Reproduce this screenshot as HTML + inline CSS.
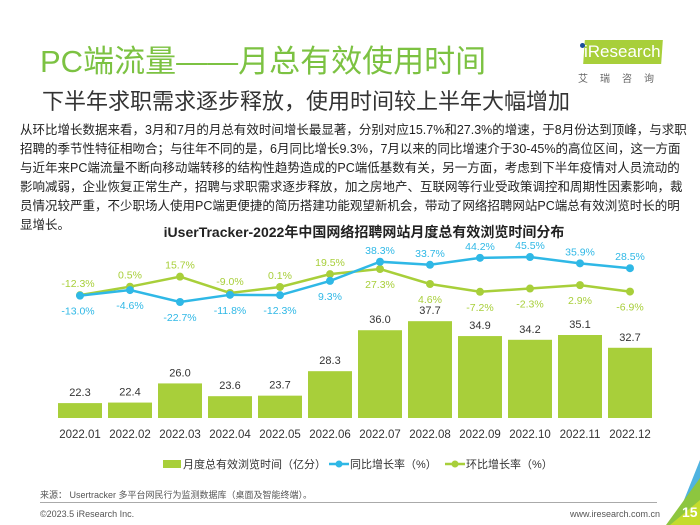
<!DOCTYPE html>
<html><head><meta charset="utf-8"><style>
body{margin:0;width:700px;height:525px;background:#fff;position:relative;overflow:hidden;font-family:"Liberation Sans","Noto Sans CJK SC",sans-serif;}
.abs{position:absolute;}
.p div{white-space:nowrap;height:19px;line-height:19px;}
</style></head><body>
<div class="abs" style="left:40px;top:36px;font-size:31px;color:#7cc242;">PC端流量——月总有效使用时间</div>
<div class="abs" style="left:42px;top:84px;font-size:22px;color:#333;">下半年求职需求逐步释放，使用时间较上半年大幅增加</div>
<div class="abs" style="left:578px;top:40px;width:84px;height:22px;">
<div class="abs" style="left:6px;top:0;width:78px;height:24px;background:#a8cf3a;transform:skewX(-4deg);"></div>
<div class="abs" style="left:2px;top:3px;width:5px;height:5px;border-radius:50%;background:#1a4f9c;"></div>
<div class="abs" style="left:6px;top:2px;font-size:17px;color:#fff;">iResearch</div>
<div class="abs" style="left:0;top:30px;font-size:10px;color:#666;letter-spacing:12px;white-space:nowrap;">艾瑞咨询</div>
</div>
<div class="abs p" style="left:20px;top:121px;font-size:12.5px;color:#222;">
<div>从环比增长数据来看，3月和7月的月总有效时间增长最显著，分别对应15.7%和27.3%的增速，于8月份达到顶峰，与求职</div>
<div>招聘的季节性特征相吻合；与往年不同的是，6月同比增长9.3%，7月以来的同比增速介于30-45%的高位区间，这一方面</div>
<div>与近年来PC端流量不断向移动端转移的结构性趋势造成的PC端低基数有关，另一方面，考虑到下半年疫情对人员流动的</div>
<div>影响减弱，企业恢复正常生产，招聘与求职需求逐步释放，加之房地产、互联网等行业受政策调控和周期性因素影响，裁</div>
<div>员情况较严重，不少职场人使用PC端更便捷的简历搭建功能观望新机会，带动了网络招聘网站PC端总有效浏览时长的明</div>
<div>显增长。</div>
</div>
<div class="abs" style="left:0;width:728px;text-align:center;top:222px;font-size:14px;font-weight:bold;color:#222;">iUserTracker-2022年中国网络招聘网站月度总有效浏览时间分布</div>
<svg class="abs" style="left:0;top:0" width="700" height="525" id="chart"></svg>
<div class="abs" style="left:40px;top:488px;font-size:9px;color:#555;">来源： Usertracker 多平台网民行为监测数据库（桌面及智能终端）。</div>
<div class="abs" style="left:40px;top:502px;width:617px;height:1px;background:#aaa;"></div>
<div class="abs" style="left:40px;top:509px;font-size:9px;color:#555;">©2023.5 iResearch Inc.</div>
<div class="abs" style="left:570px;top:509px;font-size:9px;color:#555;">www.iresearch.com.cn</div>
<svg class="abs" style="left:660px;top:460px" width="40" height="65">
<polygon points="40,0 40,40 14,65" fill="#4fb3e0"/><polygon points="40,18 40,65 6,65" fill="#8dc63f"/><polygon points="40,40 40,65 10,65" fill="#c4dc2c"/>
</svg>
<div class="abs" style="left:682px;top:504px;font-size:14px;color:#fff;font-weight:bold;">15</div>
<script>
const months=["2022.01","2022.02","2022.03","2022.04","2022.05","2022.06","2022.07","2022.08","2022.09","2022.10","2022.11","2022.12"];
const timeValues=[22.3,22.4,26.0,23.6,23.7,28.3,36.0,37.7,34.9,34.2,35.1,32.7];
const yoyValues=[-13.0,-4.6,-22.7,-11.8,-12.3,9.3,38.3,33.7,44.2,45.5,35.9,28.5];
const momValues=[-12.3,0.5,15.7,-9.0,0.1,19.5,27.3,4.6,-7.2,-2.3,2.9,-6.9];
const svg=document.getElementById('chart');
const NS='http://www.w3.org/2000/svg';
const x=i=>80+i*50;
const yBar=v=>418-(v-19.5)*5.32;
const yPct=v=>257+(45.5-v)*0.66;
function mk(t,a){const e=document.createElementNS(NS,t);for(const k in a)e.setAttribute(k,a[k]);svg.appendChild(e);return e;}
function txt(s,xx,yy,c,fs){const e=mk('text',{x:xx,y:yy,'text-anchor':'middle',fill:c,'font-size':fs||11,'font-family':'Liberation Sans, Noto Sans CJK SC, sans-serif'});e.textContent=s;return e;}
timeValues.forEach((v,i)=>{
 const r=mk('rect',{x:x(i)-22,y:yBar(v),width:44,height:418-yBar(v),fill:'#a8cf3a'});
 
 
 const t=txt(v.toFixed(1),x(i),yBar(v)-7,'#333',11);
 
 
 const m=txt(months[i],x(i),438,'#333',11.5);
 
 
});
function line(vals,color,name,above){
 const pl=mk('polyline',{points:vals.map((v,i)=>x(i)+','+yPct(v)).join(' '),fill:'none',stroke:color,'stroke-width':2.5});
 
 
 vals.forEach((v,i)=>{
  const c=mk('circle',{cx:x(i),cy:yPct(v),r:4,fill:color});
  
  
  const up=above(i);
  const t=txt(v.toFixed(1)+'%',x(i)+(i==0?-2:0),up?yPct(v)-8:yPct(v)+19,color,10.5);
  
  
 });
}
line(momValues,'#a8cf3a','mom-growth',i=>i<6);
line(yoyValues,'#2fb8e6','yoy-growth',i=>i>=6);
const lg=[['bar','#a8cf3a','月度总有效浏览时间（亿分）',163],['line','#2fb8e6','同比增长率（%）',329],['line','#a8cf3a','环比增长率（%）',445]];
lg.forEach(l=>{
 if(l[0]=='bar'){const r=mk('rect',{x:l[3],y:460,width:18,height:8,fill:l[1]});}
 else{const a=mk('line',{x1:l[3],y1:464,x2:l[3]+20,y2:464,stroke:l[1],'stroke-width':2.5});const c=mk('circle',{cx:l[3]+10,cy:464,r:3.5,fill:l[1]});}
 const t=mk('text',{x:l[3]+(l[0]=='bar'?20:21),y:468,fill:'#333','font-size':11,'font-family':'Liberation Sans, Noto Sans CJK SC, sans-serif'});t.textContent=l[2];
 
 
});
</script>
</body></html>
